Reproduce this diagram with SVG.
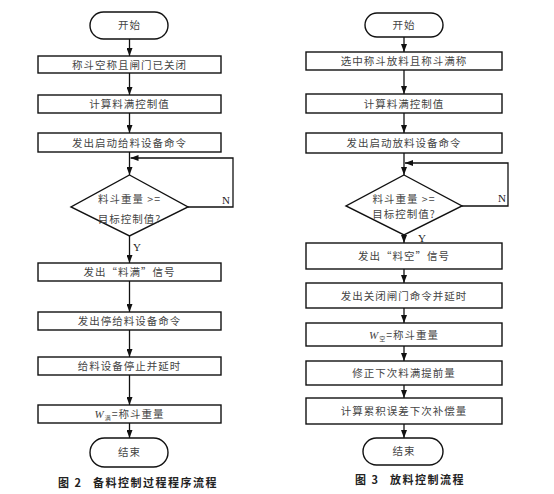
<svg xmlns="http://www.w3.org/2000/svg" width="554" height="494" viewBox="0 0 554 494">
<style>
.b{fill:#fff;stroke:#111;stroke-width:1.4}
.t{font-family:"Noto Sans CJK SC","Liberation Sans",sans-serif;font-size:10.5px;fill:#444;text-anchor:middle;letter-spacing:1px}
.l{font-family:"Liberation Serif",serif;font-size:11px;fill:#222}
.c{fill:none;stroke:#111;stroke-width:1.3}
.cap{font-family:"Noto Sans CJK SC","Liberation Sans",sans-serif;font-size:11px;font-weight:bold;fill:#222;letter-spacing:1.5px}
</style>
<defs>
<marker id="a" markerUnits="userSpaceOnUse" markerWidth="8" markerHeight="6" refX="8" refY="3" orient="auto">
<path d="M0,0 L8,3 L0,6 z" fill="#111"/>
</marker>
</defs>
<rect width="554" height="494" fill="#fff"/>
<g id="connectors">
<path class="c" d="M129.5,39 V56" marker-end="url(#a)"/>
<path class="c" d="M129.5,73 V95" marker-end="url(#a)"/>
<path class="c" d="M129.5,113 V133" marker-end="url(#a)"/>
<path class="c" d="M129.5,152 V175" marker-end="url(#a)"/>
<path class="c" d="M188,207 H233 V158 H130.5" marker-end="url(#a)"/>
<path class="c" d="M129.5,236 V263" marker-end="url(#a)"/>
<path class="c" d="M129.5,281 V312" marker-end="url(#a)"/>
<path class="c" d="M129.5,330 V357" marker-end="url(#a)"/>
<path class="c" d="M129.5,375 V405" marker-end="url(#a)"/>
<path class="c" d="M129.5,423 V438" marker-end="url(#a)"/>
<path class="c" d="M404,37 V52" marker-end="url(#a)"/>
<path class="c" d="M404,70 V94" marker-end="url(#a)"/>
<path class="c" d="M404,113 V133" marker-end="url(#a)"/>
<path class="c" d="M404,153 V175" marker-end="url(#a)"/>
<path class="c" d="M462,206 H508 V163 H405" marker-end="url(#a)"/>
<path class="c" d="M404,235 V243" marker-end="url(#a)"/>
<path class="c" d="M404,269 V283" marker-end="url(#a)"/>
<path class="c" d="M404,308 V323" marker-end="url(#a)"/>
<path class="c" d="M404,346 V361" marker-end="url(#a)"/>
<path class="c" d="M404,385 V398" marker-end="url(#a)"/>
<path class="c" d="M404,424 V438" marker-end="url(#a)"/>
<text class="l" x="222" y="204">N</text>
<text class="l" x="133" y="251">Y</text>
<text class="l" x="498" y="202">N</text>
<text class="l" x="418" y="242">Y</text>
</g>
<g id="L_start"><rect class="b" x="90" y="12" width="78" height="27" rx="13.5"/><text class="t" x="129.5" y="29">开始</text></g>
<g id="L_b1"><rect class="b" x="38" y="56" width="183" height="17"/><text class="t" x="129.5" y="68.5">称斗空称且闸门已关闭</text></g>
<g id="L_b2"><rect class="b" x="38" y="95" width="183" height="18"/><text class="t" x="129.5" y="108">计算料满控制值</text></g>
<g id="L_b3"><rect class="b" x="38" y="133" width="183" height="19"/><text class="t" x="129.5" y="146.5">发出启动给料设备命令</text></g>
<g id="L_d"><path class="b" d="M129.5,175 L188,207 L129.5,236 L71,207 Z"/><text class="t" x="129.5" y="203">料斗重量 &gt;=</text><text class="t" x="129.5" y="223">目标控制值?</text></g>
<g id="L_b4"><rect class="b" x="38" y="263" width="183" height="18"/><text class="t" x="129.5" y="276">发出“料满”信号</text></g>
<g id="L_b5"><rect class="b" x="38" y="312" width="183" height="18"/><text class="t" x="129.5" y="325">发出停给料设备命令</text></g>
<g id="L_b6"><rect class="b" x="38" y="357" width="183" height="18"/><text class="t" x="129.5" y="370">给料设备停止并延时</text></g>
<g id="L_b7"><rect class="b" x="38" y="405" width="183" height="18"/><text class="t" x="129.5" y="418"><tspan font-family="Liberation Serif,serif" font-style="italic" font-size="11">W</tspan><tspan font-size="6" dy="2">满</tspan><tspan dy="-2">=称斗重量</tspan></text></g>
<g id="L_end"><rect class="b" x="90" y="438" width="78" height="29" rx="14.5"/><text class="t" x="129.5" y="456">结束</text></g>
<g id="L_cap"><text class="cap" x="58" y="487">图 2<tspan x="93">备料控制过程程序流程</tspan></text></g>
<g id="R_start"><rect class="b" x="365" y="13" width="78" height="24" rx="12"/><text class="t" x="404" y="29">开始</text></g>
<g id="R_b1"><rect class="b" x="306" y="52" width="196" height="18"/><text class="t" x="404" y="65">选中称斗放料且称斗满称</text></g>
<g id="R_b2"><rect class="b" x="306" y="94" width="196" height="19"/><text class="t" x="404" y="107.5">计算料满控制值</text></g>
<g id="R_b3"><rect class="b" x="306" y="133" width="196" height="20"/><text class="t" x="404" y="147">发出启动放料设备命令</text></g>
<g id="R_d"><path class="b" d="M404,175 L462,206 L404,235 L346,206 Z"/><text class="t" x="404" y="203">料斗重量 &gt;=</text><text class="t" x="404" y="218">目标控制值?</text></g>
<g id="R_b4"><rect class="b" x="306" y="243" width="196" height="26"/><text class="t" x="404" y="260">发出“料空”信号</text></g>
<g id="R_b5"><rect class="b" x="306" y="283" width="196" height="25"/><text class="t" x="404" y="299.5">发出关闭闸门命令并延时</text></g>
<g id="R_b6"><rect class="b" x="306" y="323" width="196" height="23"/><text class="t" x="404" y="338.5"><tspan font-family="Liberation Serif,serif" font-style="italic" font-size="11">W</tspan><tspan font-size="6" dy="2">空</tspan><tspan dy="-2">=称斗重量</tspan></text></g>
<g id="R_b7"><rect class="b" x="306" y="361" width="196" height="24"/><text class="t" x="404" y="377">修正下次料满提前量</text></g>
<g id="R_b8"><rect class="b" x="306" y="398" width="196" height="26"/><text class="t" x="404" y="415">计算累积误差下次补偿量</text></g>
<g id="R_end"><rect class="b" x="363" y="438" width="80" height="27" rx="13.5"/><text class="t" x="404" y="455">结束</text></g>
<g id="R_cap"><text class="cap" x="355" y="484">图 3<tspan x="390">放料控制流程</tspan></text></g>
</svg>
